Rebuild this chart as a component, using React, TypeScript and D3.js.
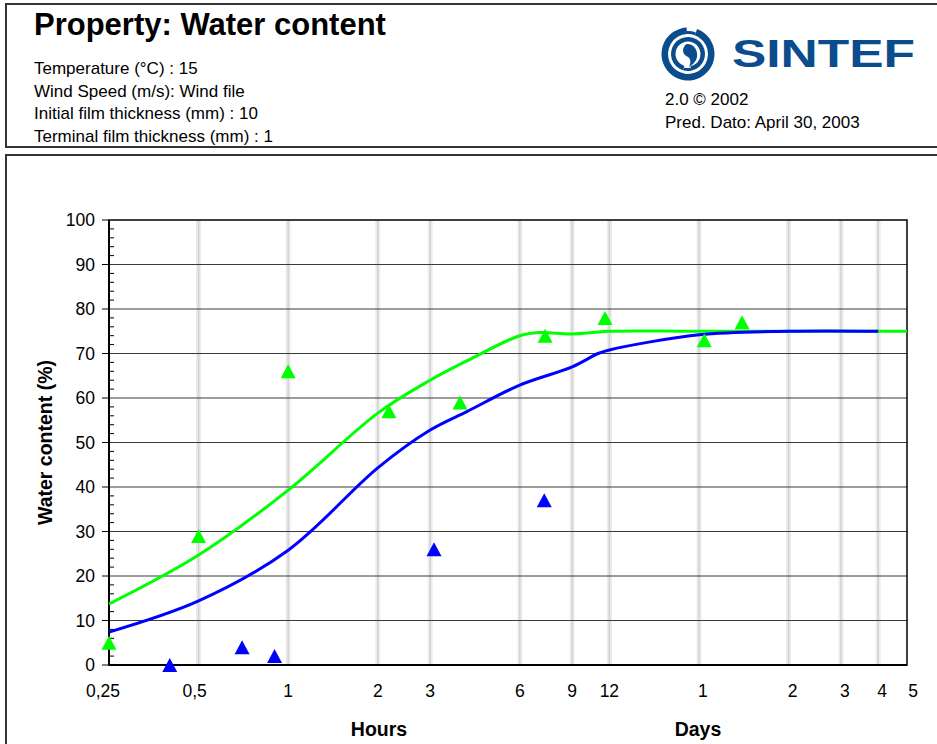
import React from 'react';
import * as d3 from 'd3';

const infoLines = [
  'Temperature (°C) : 15',
  'Wind Speed (m/s): Wind file',
  'Initial film thickness (mm) : 10',
  'Terminal film thickness (mm) : 1',
];
const hourTicks = [0.25, 0.5, 1, 2, 3, 6, 9, 12];
const hourTickLabels = ['0,25', '0,5', '1', '2', '3', '6', '9', '12'];
const dayTicks = [1, 2, 3, 4, 5];
const dayTickLabels = ['1', '2', '3', '4', '5'];
const gridHours = [0.5, 1, 2, 3, 6, 9, 12, 24, 48, 72, 96];
const yTicks = [0, 10, 20, 30, 40, 50, 60, 70, 80, 90, 100];

// model curves (hours, water content %)
const greenLineHours = [0.25, 0.5, 1, 2, 3, 4, 6, 7, 9, 12, 24, 120];
const greenLineValues = [13.7, 24.7, 39.3, 56.6, 64, 68.4, 74, 74.7, 74.4, 75, 75, 75];
const blueLineHours = [0.25, 0.5, 1, 2, 3, 4, 6, 9, 11, 12, 24, 48, 96];
const blueLineValues = [7.4, 14.4, 25.8, 44.3, 52.8, 57, 62.9, 67, 70, 70.8, 74.2, 75, 75];

// observations
const greenObsHours = [0.25, 0.5, 1, 2.18, 3.78, 7.3, 11.6, 25, 33.5];
const greenObsValues = [5, 29, 66, 57, 59, 74, 78, 73, 77];
const blueObsHours = [0.4, 0.7, 0.9, 3.09, 7.25];
const blueObsValues = [0, 4, 2, 26, 37];

const W = 937;
const H = 744;
const plot = { left: 109, right: 907, top: 220, bottom: 665 };
const GREEN = '#00ff00';
const BLUE = '#0000ff';
const LOGO = '#0b4c8c';
const FONT = 'Arial, "Liberation Sans", Helvetica, sans-serif';

export default function App() {
  const x = d3.scaleLog().domain([0.25, 120]).range([plot.left, plot.right]);
  const y = d3.scaleLinear().domain([0, 100]).range([plot.bottom, plot.top]);

  const line = d3
    .line<[number, number]>()
    .x((d) => x(d[0]))
    .y((d) => y(d[1]))
    .curve(d3.curveCatmullRom.alpha(0.5));

  const greenPts = greenLineHours.map((h, i) => [h, greenLineValues[i]] as [number, number]);
  const bluePts = blueLineHours.map((h, i) => [h, blueLineValues[i]] as [number, number]);

  const tri = 'M0,-7 L7.5,7 L-7.5,7 Z';
  const minorTicks = d3.range(0, 101, 2).filter((v) => v % 10 !== 0);

  const arc = d3.arc();
  const logoCx = 688;
  const logoCy = 54;

  return (
    <svg
      width={W}
      height={H}
      style={{ position: 'absolute', left: 0, top: 0, background: '#fff' }}
      fontFamily={FONT}
    >
      <rect x={0} y={0} width={W} height={H} fill="#fff" />
      {/* header box */}
      <rect x={6} y={4} width={W + 10} height={143} fill="none" stroke="#333" strokeWidth={2} />
      <text x={34} y={35} fontSize={31} fontWeight="bold" fill="#000">
        Property: Water content
      </text>
      {infoLines.map((t, i) => (
        <text key={t} x={34} y={74 + i * 22.5} fontSize={17} fill="#000">
          {t}
        </text>
      ))}
      {/* logo */}
      <g transform={`translate(${logoCx},${logoCy})`} fill={LOGO}>
        <path d={arc({ innerRadius: 20, outerRadius: 26.5, startAngle: 0.35, endAngle: 2 * Math.PI - 0.05 }) || ''} />
        <path d={arc({ innerRadius: 20, outerRadius: 23, startAngle: -0.05, endAngle: 0.35 }) || ''} />
        <path d={arc({ innerRadius: 12.5, outerRadius: 17, startAngle: Math.PI + 0.3, endAngle: 3 * Math.PI - 0.2 }) || ''} />
        <path d={arc({ innerRadius: 14, outerRadius: 17, startAngle: Math.PI - 0.2, endAngle: Math.PI + 0.3 }) || ''} />
        <path d="M-1,-10 C6,-10 10,-4 9,3 C8,8 4,11 1,13 C3,9 3,5 0,3 C-5,1 -6,-4 -4,-7 C-3,-9 -2,-10 -1,-10 Z" />
      </g>
      <text
        x={732}
        y={67}
        fontSize={38}
        fontWeight="bold"
        fill={LOGO}
        textLength={183}
        lengthAdjust="spacingAndGlyphs"
      >
        SINTEF
      </text>
      <text x={665} y={105} fontSize={17} fill="#000">
        2.0 © 2002
      </text>
      <text x={665} y={128} fontSize={17} fill="#000">
        Pred. Dato: April 30, 2003
      </text>

      {/* chart box */}
      <rect x={6} y={155} width={W + 10} height={H} fill="none" stroke="#333" strokeWidth={2} />

      {/* vertical gridlines */}
      {gridHours.map((h) => (
        <g key={'g' + h}>
          <line x1={x(h)} x2={x(h)} y1={plot.top} y2={plot.bottom} stroke="#ececec" strokeWidth={5} />
          <line x1={x(h)} x2={x(h)} y1={plot.top} y2={plot.bottom} stroke="#d2d2d2" strokeWidth={1.5} />
        </g>
      ))}
      {/* horizontal gridlines */}
      {yTicks
        .filter((v) => v > 0 && v < 100)
        .map((v) => (
          <line key={'h' + v} x1={plot.left} x2={plot.right} y1={y(v)} y2={y(v)} stroke="#3a3a3a" strokeWidth={1} />
        ))}
      {/* frame */}
      <rect
        x={plot.left}
        y={plot.top}
        width={plot.right - plot.left}
        height={plot.bottom - plot.top}
        fill="none"
        stroke="#000"
        strokeWidth={1.5}
      />
      <line x1={plot.left} x2={plot.left} y1={plot.top} y2={plot.bottom} stroke="#000" strokeWidth={2} />
      <line x1={plot.left} x2={plot.right} y1={plot.bottom} y2={plot.bottom} stroke="#000" strokeWidth={2} />

      {/* y ticks */}
      {yTicks.map((v) => (
        <g key={'yt' + v}>
          <line x1={plot.left - 7} x2={plot.left} y1={y(v)} y2={y(v)} stroke="#000" strokeWidth={1} />
          <text x={95} y={y(v) + 6} fontSize={17.5} textAnchor="end" fill="#000">
            {v}
          </text>
        </g>
      ))}
      {minorTicks.map((v) => (
        <line key={'mt' + v} x1={plot.left} x2={plot.left + 5} y1={y(v)} y2={y(v)} stroke="#000" strokeWidth={1} />
      ))}

      {/* x tick labels */}
      {hourTicks.map((h, i) => (
        <text key={'xh' + h} x={x(h) + (i === 0 ? -6 : i === 1 ? -4 : 0)} y={697} fontSize={17.5} textAnchor="middle" fill="#000">
          {hourTickLabels[i]}
        </text>
      ))}
      {dayTicks.map((d, i) => (
        <text key={'xd' + d} x={x(d * 24) + 4 + (i === 4 ? 2 : 0)} y={697} fontSize={17.5} textAnchor="middle" fill="#000">
          {dayTickLabels[i]}
        </text>
      ))}

      <text x={379} y={736} fontSize={19.5} fontWeight="bold" textAnchor="middle" fill="#000">
        Hours
      </text>
      <text x={698} y={736} fontSize={19.5} fontWeight="bold" textAnchor="middle" fill="#000">
        Days
      </text>
      <text
        transform={`translate(52,${(plot.top + plot.bottom) / 2}) rotate(-90)`}
        fontSize={19.5}
        fontWeight="bold"
        textAnchor="middle"
        fill="#000"
      >
        Water content (%)
      </text>

      {/* lines */}
      <path d={line(greenPts) || ''} fill="none" stroke={GREEN} strokeWidth={3} />
      <path d={line(bluePts) || ''} fill="none" stroke={BLUE} strokeWidth={3} />

      {/* observations */}
      {greenObsHours.map((h, i) => (
        <path key={'go' + i} d={tri} transform={`translate(${x(h)},${y(greenObsValues[i])})`} fill={GREEN} />
      ))}
      {blueObsHours.map((h, i) => (
        <path key={'bo' + i} d={tri} transform={`translate(${x(h)},${y(blueObsValues[i])})`} fill={BLUE} />
      ))}
    </svg>
  );
}
